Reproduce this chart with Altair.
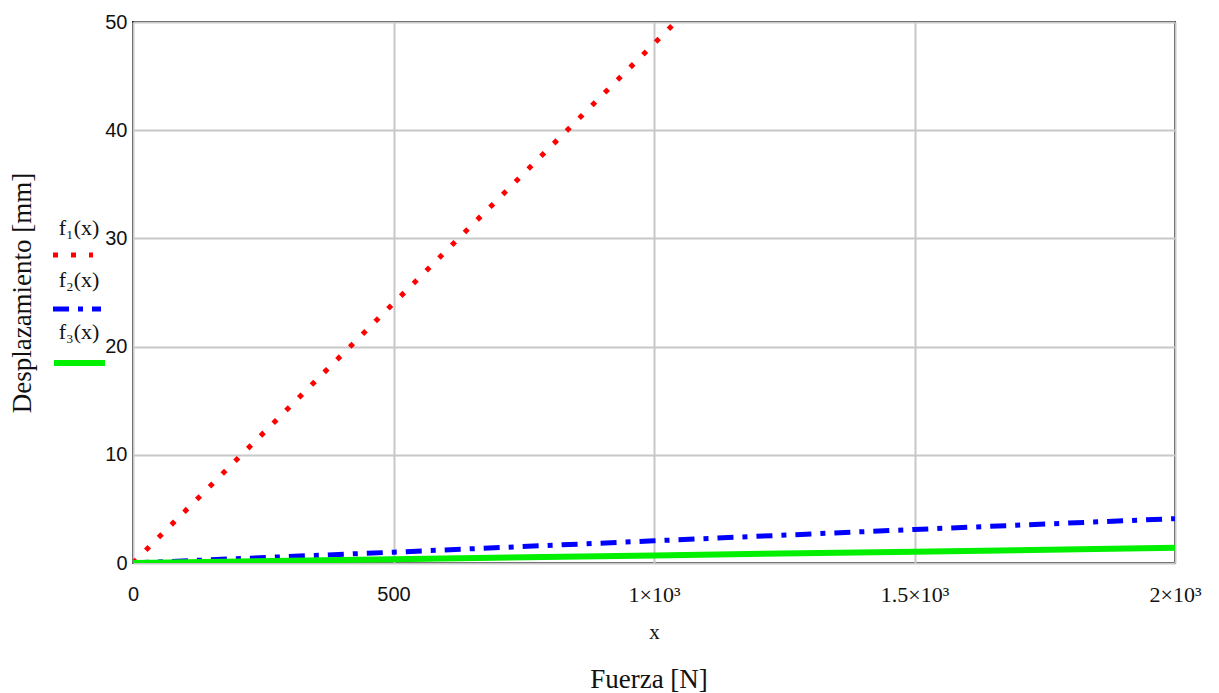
import altair as alt
import pandas as pd

# Values
xs = [0, 500, 1000, 1500, 2000]
f1 = [0, 24, 48, 72, 96]
f2 = [0, 1.0, 2.05, 3.1, 4.1]
f3 = [0, 0.35, 0.7, 1.05, 1.4]
series_names = ["f₁(x)", "f₂(x)", "f₃(x)"]
x_ticks = [0, 500, 1000, 1500, 2000]
y_ticks = [0, 10, 20, 30, 40, 50]

W, H = 1042, 541
SERIF = "Liberation Serif"
SANS = "Liberation Sans"

df = pd.DataFrame({"x": xs * 3,
                   "y": f1 + f2 + f3,
                   "s": [series_names[0]] * 5 + [series_names[1]] * 5 + [series_names[2]] * 5})

xscale = alt.Scale(domain=[0, 2000], nice=False, zero=False)
yscale = alt.Scale(domain=[0, 50], nice=False)

label_expr = ("datum.value == 0 ? '0' : datum.value == 500 ? '500' : datum.value == 1000 ? '1×10³' : "
              "datum.value == 1500 ? '1.5×10³' : '2×10³'")

xaxis = alt.Axis(values=x_ticks, labelExpr=label_expr, grid=True, gridColor="#c8c8c8", gridWidth=2,
                 domain=False, ticks=False,
                 labelFont={"condition": {"test": "datum.value >= 1000", "value": SERIF}, "value": SANS},
                 labelFontSize={"condition": {"test": "datum.value >= 1000", "value": 22}, "value": 20},
                 labelColor="#111",
                 labelPadding=21, labelBaseline="top", labelFlush=False,
                 title="x", titleFont=SERIF, titleFontSize=21, titleFontWeight="normal", titleColor="#111",
                 titleY=58, titleBaseline="top")
yaxis = alt.Axis(values=y_ticks, grid=True, gridColor="#c8c8c8", gridWidth=2,
                 domain=False, ticks=False, labelFont=SANS, labelFontSize=20, labelColor="#111",
                 labelPadding=6, labelFlush=False,
                 title="Desplazamiento [mm]", titleFont=SERIF, titleFontSize=27, titleFontWeight="normal",
                 titleColor="#111", titleAngle=-90, titleX=-111, titleY=H / 2,
                 titleAlign="center", titleBaseline="middle")

def series(i, color, width, dash=None):
    sub = df[df["s"] == series_names[i]]
    kw = dict(color=color, strokeWidth=width, clip=True, strokeCap="butt")
    if dash:
        kw["strokeDash"] = dash
    return alt.Chart(sub).mark_line(**kw).encode(
        x=alt.X("x:Q", scale=xscale, axis=xaxis),
        y=alt.Y("y:Q", scale=yscale, axis=yaxis),
    )

red = series(0, "#ff0000", 5, [5, 13])
blue = series(1, "#0000ff", 5, [16, 9, 5, 9])
green = series(2, "#00f000", 6)

def legend_item(i, color, width, dash, ty, ly, x1, x2):
    d = pd.DataFrame({"label": [series_names[i]]})
    t = alt.Chart(d).mark_text(font=SERIF, fontSize=22, color="#111", align="center", baseline="middle").encode(
        text="label:N", x=alt.value(-54), y=alt.value(ty))
    kw = dict(color=color, strokeWidth=width, strokeCap="butt")
    if dash:
        kw["strokeDash"] = dash
    r = alt.Chart(d).mark_rule(**kw).encode(x=alt.value(x1), x2=alt.value(x2), y=alt.value(ly))
    return t + r

leg1 = legend_item(0, "#ff0000", 5, [5, 13], 206, 233, -80, -40)
leg2 = legend_item(1, "#0000ff", 5, [16, 9, 5, 9], 258, 287, -80, -32)
leg3 = legend_item(2, "#00f000", 6, None, 310, 341, -79, -28)

xtitle = alt.Chart(pd.DataFrame({"t": ["Fuerza [N]"]})).mark_text(
    font=SERIF, fontSize=27, color="#111", align="center", baseline="middle").encode(
    text="t:N", x=alt.value(516), y=alt.value(658))

chart = alt.layer(red, blue, green, leg1, leg2, leg3, xtitle).properties(
    width=W, height=H,
    autosize=alt.AutoSizeParams(type="none"),
    padding={"left": 133, "top": 22, "right": 44, "bottom": 130},
    background="white",
).configure_view(stroke="#222", strokeWidth=2)

chart.save("out.html", embed_options={"renderer": "svg", "actions": False})
